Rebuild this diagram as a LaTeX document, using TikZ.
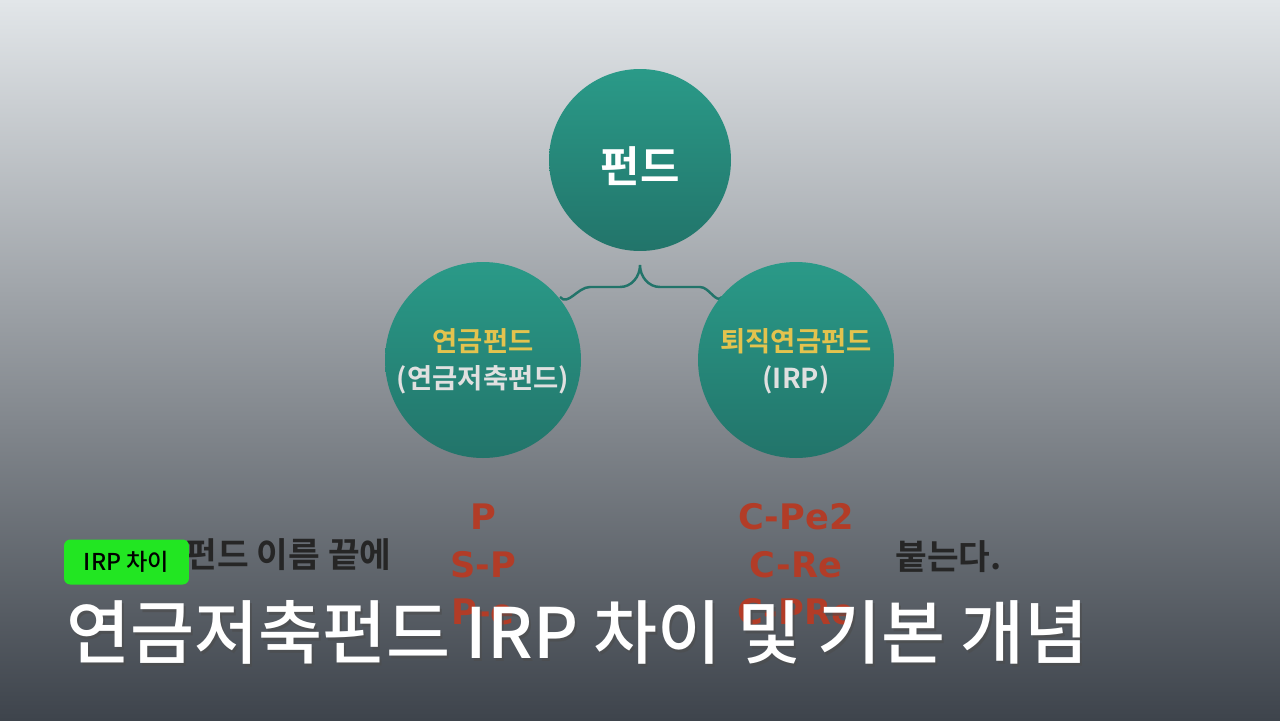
\documentclass[tikz,border=0pt]{standalone}
\usepackage{fontspec}
\setmainfont{Noto Sans CJK KR}
\newfontfamily\kr{Noto Sans CJK KR}
\newfontfamily\krm{Noto Sans CJK KR Medium}
\newfontfamily\krb{Noto Sans CJK KR Bold}
\newfontfamily\lat{DejaVu Sans Bold}
\definecolor{teal1}{HTML}{2A9A88}
\definecolor{teal2}{HTML}{22746A}
\definecolor{gold}{HTML}{E3C34E}
\definecolor{rust}{HTML}{B23C27}
\definecolor{tag}{HTML}{22E622}
\newcommand{\fs}[1]{\fontsize{#1}{#1}\selectfont}
\begin{document}
\begin{tikzpicture}[x=0.05cm,y=-0.05cm,
  bub/.style={circle,top color=teal1,bottom color=teal2,draw=none,inner sep=0pt},
  red/.style={text=rust,font=\lat\fs{50}},
  blk/.style={text=black!85,font=\krb\fs{49}},
  ttl/.style={anchor=west,font=\krm\fs{99},inner sep=0pt}]
\shade[top color={rgb,255:red,226;green,230;blue,233},middle color={rgb,255:red,184;green,189;blue,195},bottom color={rgb,255:red,62;green,68;blue,76}] (0,0) rectangle (1280,720);
\useasboundingbox (0,0) rectangle (1280,720);
\node[bub,minimum size=182*1.4226pt] (top) at (640,160) {};
\node[text=white,font=\krb\fs{61}] (toplab) at (640,166) {펀드};
\draw[teal2,line width=3.5pt] (560,297) to[out=-50,in=180] (590,287) -- (620,287) to[out=0,in=-90] (640,265) to[out=-90,in=180] (660,287) -- (700,287) to[out=0,in=-130] (722,297);
\node[bub,minimum size=196*1.4226pt] (left) at (483,360) {};
\node[bub,minimum size=196*1.4226pt] (right) at (796,360) {};
\node[text=gold,font=\krb\fs{39}] (l1) at (483,341) {연금펀드};
\node[text=white!88!black,font=\krb\fs{39}] (l2) at (483,380) {(연금저축펀드)};
\node[text=gold,font=\krb\fs{39}] (r1) at (796,341) {퇴직연금펀드};
\node[text=white!88!black,font=\krb\fs{39}] (r2) at (796,380) {(IRP)};
\node[red] (p1) at (483,517) {P};
\node[red] (p2) at (483,565) {S-P};
\node[red] (p3) at (483,612) {P-e};
\node[red] (c1) at (796,517) {C-Pe2};
\node[red] (c2) at (796,565) {C-Re};
\node[red] (c3) at (796,612) {C-PRe};
\node[blk,anchor=east] (b1) at (394,555) {펀드 이름 끝에};
\node[blk,anchor=west] (b2) at (893,557) {붙는다.};
\node[fill=tag,rounded corners=9pt,minimum width=125*1.4226pt,minimum height=45*1.4226pt,text=black,font=\krm\fs{33}] (tag) at (126.5,562) {IRP 차이};
\node[ttl,text=black!70,opacity=0.6] (tshadow) at (68,635) {연금저축펀드 IRP 차이 및 기본 개념};
\node[ttl,text=white] (title) at (66,632) {연금저축펀드 IRP 차이 및 기본 개념};
\end{tikzpicture}
\end{document}
